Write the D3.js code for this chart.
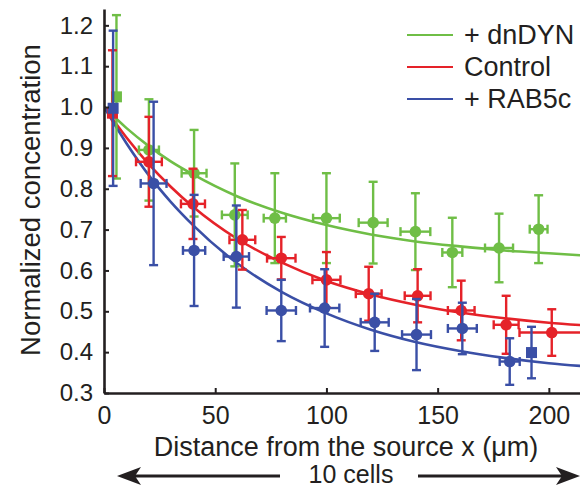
<!DOCTYPE html>
<html>
<head>
<meta charset="utf-8">
<script src="https://cdn.jsdelivr.net/npm/d3@7"></script>
<style>
  body { margin: 0; background: #fff; }
  svg { display: block; font-family: "Liberation Sans", Arial, Helvetica, sans-serif; }
</style>
</head>
<body>
<div id="chart"></div>
<script>
// measured points, one list per condition
var dnX    = [5.6, 20.2, 40.5, 58.8, 76.8, 100, 121, 140, 156.6, 177.6, 195.4];
var dnY    = [1.025, 0.895, 0.838, 0.736, 0.728, 0.728, 0.717, 0.695, 0.644, 0.655, 0.701];
var dnYErr = [0.20, 0.124, 0.106, 0.126, 0.11, 0.11, 0.10, 0.094, 0.085, 0.084, 0.083];
var dnXErr = [0, 4.5, 5.6, 5.8, 5, 6, 6.5, 6.7, 4.5, 6.3, 4];

var ctX    = [3.8, 20.2, 40, 62.2, 79.7, 100, 119, 141, 160.6, 180.8, 201.3];
var ctY    = [0.985, 0.866, 0.763, 0.675, 0.630, 0.577, 0.543, 0.538, 0.502, 0.467, 0.448];
var ctYErr = [0.154, 0.11, 0.086, 0.073, 0.052, 0.068, 0.066, 0.065, 0.073, 0.071, 0.057];
var ctXErr = [0, 5.8, 5.4, 5.8, 6.4, 6.3, 5.8, 5.8, 6, 5.6, 14.5];

var rbX    = [4.1, 22.3, 40.5, 59.5, 79.7, 99.2, 121.7, 140.5, 161.1, 182.4, 192.2];
var rbY    = [0.997, 0.813, 0.649, 0.634, 0.502, 0.508, 0.473, 0.443, 0.458, 0.377, 0.399];
var rbYErr = [0.19, 0.2, 0.136, 0.125, 0.075, 0.095, 0.07, 0.087, 0.063, 0.057, 0.063];
var rbXErr = [0, 5.8, 5, 5.7, 6.6, 6.6, 6.3, 6.5, 6.5, 4.5, 0];

// marker shape per point (squares at the source and one late RAB5c point)
var dnShape = ['s','o','o','o','o','o','o','o','o','o','o'];
var ctShape = ['s','o','o','o','o','o','o','o','o','o','o'];
var rbShape = ['s','o','o','o','o','o','o','o','o','o','s'];

// fitted curves
var fitX  = [0, 10, 20, 30, 40, 60, 80, 100, 120, 140, 160, 180, 200, 215];
var fitDn = [1.000, 0.949, 0.905, 0.867, 0.835, 0.781, 0.741, 0.711, 0.688, 0.671, 0.659, 0.649, 0.642, 0.637];
var fitCt = [1.000, 0.926, 0.861, 0.805, 0.756, 0.677, 0.619, 0.574, 0.541, 0.516, 0.497, 0.483, 0.472, 0.466];
var fitRb = [1.000, 0.912, 0.834, 0.768, 0.711, 0.617, 0.547, 0.495, 0.455, 0.425, 0.403, 0.386, 0.373, 0.366];

var xTicks = [0, 50, 100, 150, 200];
var yTicks = [0.3, 0.4, 0.5, 0.6, 0.7, 0.8, 0.9, 1.0, 1.1, 1.2];

var seriesNames = ['+ dnDYN', 'Control', '+ RAB5c'];
var colors = ['#6fbe46', '#e52229', '#3a4fa6'];
var ink = '#231f20';

var width = 580, height = 488;
var margin = { top: 9, right: 0, bottom: 95, left: 104 };

var svg = d3.select('#chart').append('svg')
    .attr('width', width)
    .attr('height', height);

var x = d3.scaleLinear().domain([0, 214]).range([margin.left, width - margin.right]);
var y = d3.scaleLinear().domain([0.3, 1.24]).range([height - margin.bottom, margin.top]);

svg.append('clipPath').attr('id', 'plotclip')
    .append('rect')
    .attr('x', margin.left).attr('y', 0)
    .attr('width', width - margin.left).attr('height', height - margin.bottom + 20);

var plot = svg.append('g').attr('clip-path', 'url(#plotclip)');

// fitted curves
var line = d3.line()
    .x(function(d) { return x(d[0]); })
    .y(function(d) { return y(d[1]); })
    .curve(d3.curveMonotoneX);

[fitDn, fitCt, fitRb].forEach(function(fy, i) {
    plot.append('path')
        .datum(fitX.map(function(v, j) { return [v, fy[j]]; }))
        .attr('d', line)
        .attr('fill', 'none')
        .attr('stroke', colors[i])
        .attr('stroke-width', 2.6);
});

// error bars and markers
var sets = [
    [dnX, dnY, dnXErr, dnYErr, dnShape],
    [ctX, ctY, ctXErr, ctYErr, ctShape],
    [rbX, rbY, rbXErr, rbYErr, rbShape]
];

sets.forEach(function(s, i) {
    var pts = s[0].map(function(v, j) {
        return { x: v, y: s[1][j], xe: s[2][j], ye: s[3][j], shape: s[4][j] };
    });
    var g = plot.append('g')
        .attr('stroke', colors[i])
        .attr('fill', colors[i])
        .attr('stroke-width', 2.4);
    var cap = 4.5;

    pts.forEach(function(p) {
        var cx = x(p.x), cy = y(p.y);
        var top = y(p.y + p.ye), bot = y(p.y - p.ye);
        g.append('line').attr('x1', cx).attr('x2', cx).attr('y1', top).attr('y2', bot);
        g.append('line').attr('x1', cx - cap).attr('x2', cx + cap).attr('y1', top).attr('y2', top);
        g.append('line').attr('x1', cx - cap).attr('x2', cx + cap).attr('y1', bot).attr('y2', bot);
        if (p.xe > 0) {
            var l = x(p.x - p.xe), r = x(p.x + p.xe);
            g.append('line').attr('x1', l).attr('x2', r).attr('y1', cy).attr('y2', cy);
            g.append('line').attr('x1', l).attr('x2', l).attr('y1', cy - cap).attr('y2', cy + cap);
            g.append('line').attr('x1', r).attr('x2', r).attr('y1', cy - cap).attr('y2', cy + cap);
        }
        if (p.shape === 's') {
            g.append('rect')
                .attr('x', cx - 5.5).attr('y', cy - 5.5)
                .attr('width', 11).attr('height', 11)
                .attr('stroke', 'none');
        } else {
            g.append('circle')
                .attr('cx', cx).attr('cy', cy).attr('r', 5.8)
                .attr('stroke', 'none');
        }
    });
});

// axes
var xAxis = svg.append('g')
    .attr('transform', 'translate(0,' + y.range()[0] + ')')
    .call(d3.axisBottom(x).tickValues(xTicks).tickSize(-5).tickSizeOuter(0).tickPadding(13));

var yAxis = svg.append('g')
    .attr('transform', 'translate(' + margin.left + ',0)')
    .call(d3.axisLeft(y).tickValues(yTicks).tickFormat(d3.format('.1f')).tickSize(-5).tickSizeOuter(0).tickPadding(11));

[xAxis, yAxis].forEach(function(a) {
    a.select('.domain').attr('stroke', ink).attr('stroke-width', 2.6);
    a.selectAll('.tick line').attr('stroke', ink).attr('stroke-width', 2);
    a.selectAll('.tick text').attr('fill', ink).style('font-size', '25px');
});
yAxis.selectAll('.tick text').style('font-size', '24px');

// axis titles
svg.append('text')
    .attr('x', 346).attr('y', 456)
    .attr('text-anchor', 'middle')
    .attr('fill', ink)
    .style('font-size', '27px')
    .text('Distance from the source x (μm)');

svg.append('text')
    .attr('transform', 'translate(40,200) rotate(-90)')
    .attr('text-anchor', 'middle')
    .attr('fill', ink)
    .style('font-size', '27.5px')
    .text('Normalized concentration');

// "10 cells" arrow
var arrowY = 476;
svg.append('text')
    .attr('x', 351).attr('y', 483)
    .attr('text-anchor', 'middle')
    .attr('fill', ink)
    .style('font-size', '25px')
    .text('10 cells');

svg.append('line')
    .attr('x1', 130).attr('x2', 280).attr('y1', arrowY).attr('y2', arrowY)
    .attr('stroke', ink).attr('stroke-width', 3);
svg.append('line')
    .attr('x1', 418).attr('x2', 566).attr('y1', arrowY).attr('y2', arrowY)
    .attr('stroke', ink).attr('stroke-width', 3);
svg.append('path')
    .attr('d', 'M117,' + arrowY + ' L141,' + (arrowY - 9) + ' L135,' + arrowY + ' L141,' + (arrowY + 9) + ' Z')
    .attr('fill', ink);
svg.append('path')
    .attr('d', 'M580,' + arrowY + ' L556,' + (arrowY - 9) + ' L562,' + arrowY + ' L556,' + (arrowY + 9) + ' Z')
    .attr('fill', ink);

// legend
var legend = svg.append('g').attr('transform', 'translate(407,35)');
seriesNames.forEach(function(name, i) {
    var row = legend.append('g').attr('transform', 'translate(0,' + (i * 32) + ')');
    row.append('line')
        .attr('x1', 0).attr('x2', 46).attr('y1', 0).attr('y2', 0)
        .attr('stroke', colors[i]).attr('stroke-width', 2.2);
    row.append('text')
        .attr('x', 57).attr('y', 9)
        .attr('fill', ink)
        .style('font-size', '27px')
        .text(name);
});
</script>
</body>
</html>
